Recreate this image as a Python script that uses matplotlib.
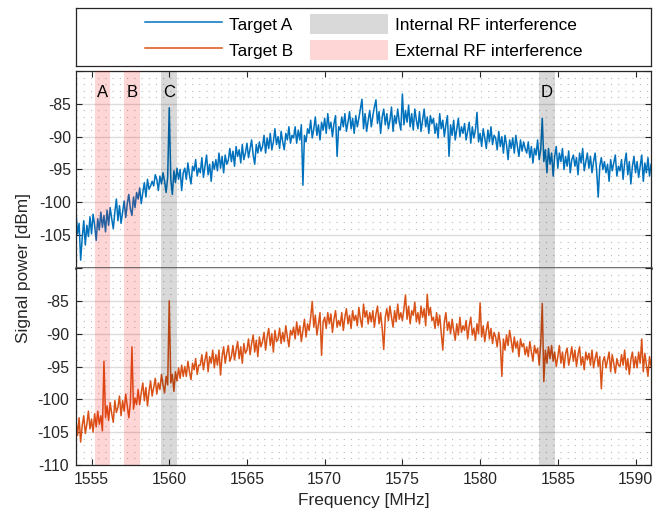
import numpy as np
import matplotlib
matplotlib.use("Agg")
import matplotlib.pyplot as plt
from matplotlib.patches import Patch
from matplotlib.lines import Line2D

plt.rcParams["font.family"] = ["Liberation Sans", "DejaVu Sans"]

# frequency grid (0.1 MHz steps), one row of values per MHz below
freq = np.round(np.arange(1554.0, 1591.001, 0.1), 1)

target_a = [
    -101.5, -104.8, -103.2, -108.8, -105.5, -102.8, -106.5, -103.5, -105.2, -102.2,  # 1554
    -104.8, -101.8, -103.5, -105.8, -102.5, -104.2, -101.5, -103.8, -102.0, -104.5,  # 1555
    -101.2, -103.5, -100.8, -102.5, -104.0, -101.5, -99.5, -102.8, -100.5, -103.2,   # 1556
    -101.5, -99.8, -102.3, -100.2, -98.8, -101.0, -102.0, -99.2, -100.8, -98.5,      # 1557
    -99.5, -97.8, -100.2, -98.5, -97.0, -99.2, -96.5, -98.0, -97.5, -96.8,           # 1558
    -97.5, -95.8, -96.5, -98.2, -96.0, -97.2, -95.5, -96.8, -98.5, -96.2,            # 1559
    -85.6, -96.5, -98.8, -95.2, -97.0, -94.8, -96.5, -95.0, -98.2, -95.5,            # 1560
    -94.8, -96.5, -94.0, -95.8, -97.2, -94.5, -95.2, -93.5, -96.0, -94.8,            # 1561
    -95.5, -93.2, -96.2, -94.5, -92.8, -95.8, -94.2, -96.8, -93.8, -95.0,            # 1562
    -93.5, -95.2, -92.5, -94.8, -93.0, -95.5, -92.8, -94.2, -93.6, -91.8,            # 1563
    -93.8, -92.2, -94.5, -91.5, -93.0, -92.0, -94.0, -91.2, -93.5, -92.5,            # 1564
    -91.0, -93.2, -91.8, -90.5, -92.8, -94.2, -91.2, -92.5, -90.8, -92.2,            # 1565
    -91.5, -89.8, -92.5, -90.2, -91.8, -89.5, -92.0, -90.8, -88.8, -91.2,            # 1566
    -90.0, -91.8, -89.2, -90.8, -92.0, -89.5, -90.5, -88.5, -91.0, -89.8,            # 1567
    -90.2, -88.5, -91.0, -89.0, -90.5, -88.2, -97.4, -89.8, -90.8, -88.8,            # 1568
    -89.5, -87.5, -90.2, -88.8, -87.0, -89.8, -88.2, -90.5, -87.8, -89.0,            # 1569
    -87.2, -89.5, -86.5, -88.8, -87.8, -90.0, -88.0, -86.8, -93.0, -88.5,            # 1570
    -89.0, -87.0, -88.5, -86.5, -89.2, -87.8, -86.2, -88.8, -87.2, -89.5,            # 1571
    -86.8, -88.5, -87.2, -85.8, -84.3, -88.8, -86.5, -89.2, -87.5, -86.0,            # 1572
    -88.5, -86.8, -85.5, -84.4, -88.0, -86.2, -89.5, -87.0, -85.8, -88.2,            # 1573
    -86.5, -88.8, -87.5, -85.5, -89.2, -86.8, -88.0, -85.8, -87.8, -89.0,            # 1574
    -83.5, -88.2, -86.0, -87.8, -85.2, -88.5, -86.5, -89.0, -85.8, -87.5,            # 1575
    -88.8, -86.2, -89.2, -87.5, -85.8, -88.5, -87.0, -89.5, -86.8, -88.0,            # 1576
    -87.2, -89.5, -88.0, -90.2, -86.5, -88.8, -87.5, -90.0, -88.2, -86.8,            # 1577
    -93.0, -88.2, -89.8, -87.5, -90.5, -88.8, -87.2, -90.0, -88.5, -89.5,            # 1578
    -88.0, -90.5, -89.2, -87.8, -91.0, -88.5, -90.2, -89.0, -86.3, -90.8,            # 1579
    -89.5, -91.5, -88.8, -90.2, -91.8, -89.0, -90.8, -88.5, -91.2, -89.8,            # 1580
    -90.2, -92.0, -89.2, -91.5, -90.0, -92.5, -89.8, -91.2, -93.5, -90.5,            # 1581
    -91.8, -90.2, -92.5, -89.8, -91.5, -93.0, -90.5, -92.2, -90.8, -91.8,            # 1582
    -92.5, -90.8, -93.2, -91.5, -94.0, -91.8, -92.8, -90.5, -93.5, -92.0,            # 1583
    -87.2, -93.8, -92.0, -95.5, -91.8, -94.2, -92.5, -96.0, -93.0, -91.5,            # 1584
    -94.8, -92.5, -93.8, -91.8, -95.0, -93.0, -94.5, -92.2, -95.5, -93.5,            # 1585
    -92.8, -94.5, -93.2, -95.8, -92.5, -94.0, -91.8, -95.2, -93.8, -92.5,            # 1586
    -94.8, -93.0, -95.5, -93.8, -92.5, -95.2, -99.2, -94.5, -93.2, -95.0,            # 1587
    -93.8, -95.5, -94.2, -96.8, -93.5, -95.2, -94.0, -92.8, -96.0, -94.5,            # 1588
    -95.2, -93.5, -96.5, -94.0, -92.5, -95.8, -93.8, -97.2, -94.5, -93.0,            # 1589
    -95.5, -93.8, -96.2, -94.5, -92.8, -96.8, -94.0, -95.5, -93.2, -96.0,            # 1590
    -94.2,                                                                           # 1591
]

target_b = [
    -103.2, -105.5, -102.8, -106.5, -104.0, -102.5, -105.2, -103.8, -101.8, -104.5,  # 1554
    -103.0, -105.0, -102.2, -104.2, -101.8, -103.8, -102.5, -104.8, -94.2, -102.8,   # 1555
    -101.0, -103.2, -100.5, -102.2, -103.5, -100.2, -102.0, -101.2, -99.5, -102.5,   # 1556
    -100.2, -101.8, -99.2, -101.0, -102.8, -100.5, -92.0, -101.5, -99.8, -100.8,     # 1557
    -98.5, -100.8, -99.0, -97.5, -100.2, -98.2, -101.0, -98.8, -97.2, -99.5,         # 1558
    -98.2, -96.8, -99.2, -97.5, -98.5, -96.2, -97.8, -99.0, -96.5, -97.8,            # 1559
    -85.0, -97.5, -96.2, -98.8, -95.8, -97.2, -95.2, -96.8, -94.8, -96.5,            # 1560
    -95.0, -96.5, -94.2, -95.8, -97.0, -94.5, -95.5, -93.8, -96.2, -94.8,            # 1561
    -94.8, -93.2, -95.5, -94.0, -92.8, -95.8, -93.5, -94.5, -92.5, -95.2,            # 1562
    -93.2, -94.8, -92.5, -96.3, -93.5, -92.0, -94.5, -93.0, -91.8, -94.2,            # 1563
    -93.5, -91.8, -94.0, -92.5, -91.2, -93.8, -92.0, -94.5, -91.5, -93.0,            # 1564
    -92.5, -90.8, -93.2, -91.5, -90.2, -92.8, -91.0, -93.5, -90.5, -92.0,            # 1565
    -91.2, -89.8, -92.5, -90.5, -89.2, -91.8, -90.0, -92.8, -89.5, -91.2,            # 1566
    -90.8, -89.2, -91.5, -89.8, -91.2, -88.8, -90.5, -92.0, -89.5, -90.2,            # 1567
    -89.0, -90.8, -88.2, -90.2, -88.8, -91.2, -89.5, -87.8, -90.5, -88.5,            # 1568
    -89.5, -87.5, -85.1, -89.0, -87.2, -90.2, -88.5, -86.8, -93.3, -88.2,            # 1569
    -87.5, -89.2, -86.8, -88.5, -87.0, -89.8, -87.8, -86.5, -89.0, -88.0,            # 1570
    -88.8, -86.8, -89.5, -87.5, -86.2, -88.5, -87.2, -89.2, -86.5, -88.0,            # 1571
    -87.2, -88.8, -86.0, -87.8, -89.0, -85.5, -87.5, -86.5, -88.5, -86.8,            # 1572
    -88.2, -86.5, -89.0, -87.0, -85.8, -88.5, -86.8, -89.2, -92.4, -87.5,            # 1573
    -86.2, -88.0, -85.8, -87.5, -89.0, -86.5, -88.2, -85.5, -87.8, -86.8,            # 1574
    -88.0, -86.2, -84.1, -87.8, -85.8, -88.5, -86.5, -87.2, -85.2, -88.2,            # 1575
    -86.8, -88.5, -85.8, -87.5, -86.2, -88.8, -84.0, -87.2, -86.0, -88.0,            # 1576
    -87.5, -89.2, -86.8, -88.8, -87.2, -89.8, -92.5, -88.2, -86.8, -89.5,            # 1577
    -88.2, -90.0, -87.8, -89.5, -91.0, -88.5, -90.2, -87.5, -89.8, -88.8,            # 1578
    -89.5, -88.0, -90.8, -88.8, -87.5, -90.2, -89.2, -91.0, -88.5, -90.0,            # 1579
    -85.3, -90.5, -88.8, -91.2, -89.5, -88.2, -90.8, -89.2, -91.5, -89.8,            # 1580
    -90.5, -92.0, -89.8, -91.5, -96.5, -90.8, -92.5, -90.2, -91.8, -89.5,            # 1581
    -91.0, -92.8, -90.5, -92.2, -91.2, -93.5, -90.8, -92.0, -91.5, -93.2,            # 1582
    -92.0, -93.5, -91.2, -92.8, -94.2, -91.8, -93.0, -92.2, -94.8, -91.5,            # 1583
    -85.4, -97.3, -92.5, -94.5, -92.0, -93.8, -91.8, -94.2, -92.8, -95.0,            # 1584
    -93.5, -91.8, -94.5, -92.8, -95.2, -93.0, -92.2, -94.8, -93.5, -92.0,            # 1585
    -94.2, -92.5, -95.0, -93.2, -92.0, -94.8, -93.5, -95.5, -92.8, -94.0,            # 1586
    -93.0, -94.8, -92.5, -95.2, -93.8, -92.8, -95.0, -93.5, -98.4, -94.2,            # 1587
    -93.5, -95.2, -94.0, -92.8, -95.8, -93.2, -94.5, -96.0, -93.8, -94.8,            # 1588
    -95.0, -93.2, -94.8, -92.5, -95.5, -93.8, -96.2, -94.0, -92.8, -95.2,            # 1589
    -93.5, -95.2, -92.8, -94.5, -90.8, -95.8, -93.0, -94.8, -96.5, -93.5,            # 1590
    -95.0,                                                                           # 1591
]

# interference bands (MHz)
band_labels = ["A", "B", "C", "D"]
band_lo = [1555.2, 1557.1, 1559.5, 1583.8]
band_hi = [1556.2, 1558.1, 1560.5, 1584.8]
band_kind = ["external", "external", "internal", "internal"]

blue = "#0072BD"
orange = "#D95319"
dark = "#262626"

fig = plt.figure(figsize=(6.63, 5.18), dpi=100)
L, R = 0.1146, 0.982
ax_top = fig.add_axes([L, 0.4826, R - L, 0.863 - 0.4826])
ax_bot = fig.add_axes([L, 0.1023, R - L, 0.4826 - 0.1023], sharex=ax_top)
ax_leg = fig.add_axes([L, 0.8726, R - L, 0.9846 - 0.8726])


def style_axis(ax, series, color, labels_yt):
    ax.plot(freq, series, color=color, linewidth=1.1, zorder=2)
    for lo, hi, kind in zip(band_lo, band_hi, band_kind):
        if kind == "external":
            ax.axvspan(lo, hi, color="red", alpha=0.16, linewidth=0, zorder=3)
        else:
            ax.axvspan(lo, hi, color="black", alpha=0.15, linewidth=0, zorder=3)
    ax.set_xlim(1554, 1591)
    ax.set_ylim(-110, -80)
    yt = list(range(-110, -79, 5))
    ax.set_yticks(yt, labels_yt)
    ax.set_yticks(np.arange(-110, -79, 1), minor=True)
    ax.set_xticks(range(1555, 1591, 5))
    ax.grid(True, axis="y", which="major", color="#dcdcdc", linewidth=1.0, zorder=1)
    ax.grid(True, axis="y", which="minor", color="#b8b8b8", linestyle=(0, (1, 5.5)),
            linewidth=0.8, zorder=1)
    ax.tick_params(which="major", direction="in", length=4, width=0.8, colors=dark,
                   labelsize=11.3, top=True, right=True, labelcolor=dark)
    ax.tick_params(which="minor", length=0)
    for s in ax.spines.values():
        s.set_color(dark)
        s.set_linewidth(0.9)


style_axis(ax_top, target_a, blue, ["", "-105", "-100", "-95", "-90", "-85", ""])
style_axis(ax_bot, target_b, orange, ["-110", "-105", "-100", "-95", "-90", "-85", ""])

ax_top.tick_params(labelbottom=False, bottom=False)
ax_top.spines["bottom"].set_color("#606060")
ax_top.spines["bottom"].set_linewidth(2.0)
ax_top.spines["bottom"].set_zorder(5)
ax_bot.spines["top"].set_visible(False)
ax_bot.tick_params(top=False, pad=5)

for lab, lo, hi in zip(band_labels, band_lo, band_hi):
    ax_top.text((lo + hi) / 2, -83.3, lab, ha="center", va="center",
                fontsize=12, color="black", zorder=4)

ax_bot.set_xlabel("Frequency [MHz]", fontsize=12.4, color=dark, labelpad=4)
fig.text(0.036, 0.4826, "Signal power [dBm]", rotation=90, ha="center", va="center",
         fontsize=12.4, color=dark)

# legend box
ax_leg.set_xticks([])
ax_leg.set_yticks([])
for s in ax_leg.spines.values():
    s.set_color(dark)
    s.set_linewidth(0.9)
handles = [
    Line2D([], [], color=blue, linewidth=1.1),
    Line2D([], [], color=orange, linewidth=1.1),
    Patch(facecolor="black", alpha=0.15, linewidth=0),
    Patch(facecolor="red", alpha=0.16, linewidth=0),
]
labels = ["Target A", "Target B", "Internal RF interference", "External RF interference"]
ax_leg.legend(handles, labels, loc="center", ncol=2, frameon=False, fontsize=12.4,
              handlelength=4.5, handleheight=1.4, handletextpad=0.4, columnspacing=1.0,
              labelspacing=0.35, borderaxespad=0)

fig.savefig("out.png", dpi=100)
